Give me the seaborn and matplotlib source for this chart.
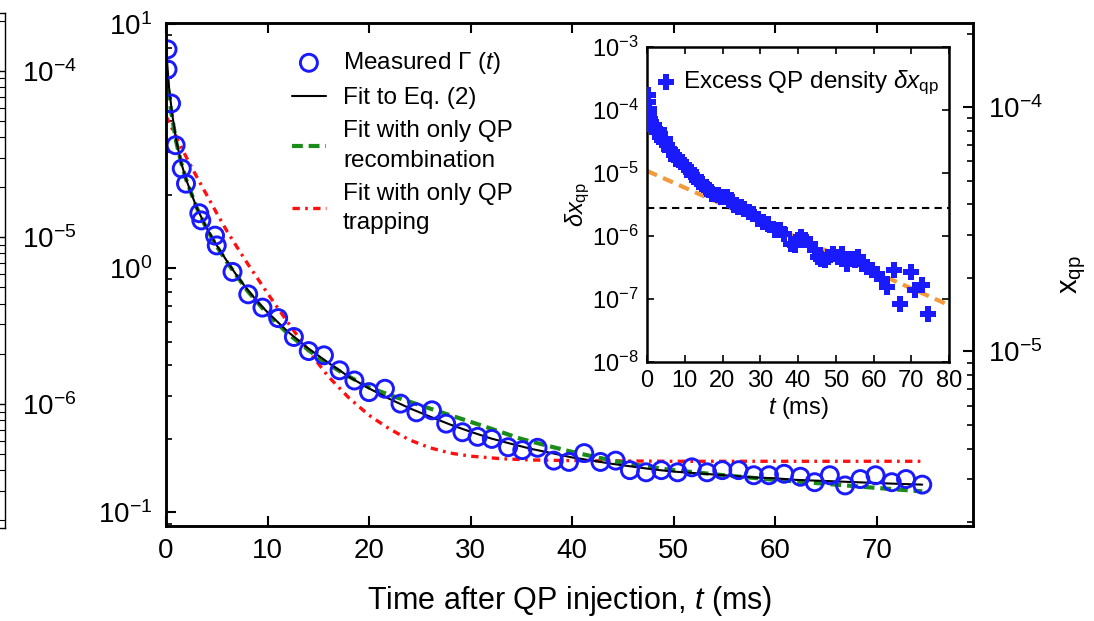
import numpy as np
import pandas as pd
import matplotlib
matplotlib.use("Agg")
import matplotlib.pyplot as plt
import seaborn as sns
from matplotlib.ticker import LogLocator, NullFormatter, FixedLocator

# ---------------- data ----------------
# measured decay rate Gamma(t)
meas_t = [0.15, 0.15, 0.5, 0.95, 1.55, 1.97, 3.28, 3.48, 4.83, 5.0, 6.55, 8.1, 9.5, 11.05,
          12.6, 14.06, 15.56, 17.1, 18.56, 20.0, 21.57, 23.1, 24.67, 26.2, 27.6, 29.2, 30.7,
          32.1, 33.7, 35.1, 36.6, 38.2, 39.7, 41.2, 42.8, 44.3, 45.7, 47.3, 48.8, 50.4, 51.8,
          53.3, 54.8, 56.4, 57.9, 59.4, 60.9, 62.5, 63.9, 65.4, 66.9, 68.4, 69.9, 71.5, 72.9, 74.5]
meas_gamma = [7.88, 6.52, 4.73, 3.19, 2.56, 2.22, 1.68, 1.57, 1.36, 1.24, 0.966, 0.782, 0.69,
              0.625, 0.523, 0.458, 0.44, 0.382, 0.347, 0.311, 0.321, 0.279, 0.257, 0.262, 0.231,
              0.213, 0.204, 0.2, 0.185, 0.18, 0.184, 0.163, 0.161, 0.175, 0.161, 0.163, 0.149,
              0.146, 0.149, 0.146, 0.153, 0.146, 0.149, 0.149, 0.142, 0.142, 0.144, 0.14, 0.133,
              0.142, 0.129, 0.137, 0.142, 0.133, 0.137, 0.13]

# fit to Eq. (2)
fit_t = [0, 0.3, 0.6, 1, 1.5, 2, 3, 4, 5, 6, 7, 8, 9, 10, 12, 14, 16, 18, 20, 22, 24, 26, 28,
         30, 32, 34, 36, 38, 40, 42, 44, 46, 48, 50, 52, 54, 56, 58, 60, 62, 64, 66, 68, 70, 72, 74.5]
fit_gamma = [8.0, 5.5, 4.3, 3.35, 2.7, 2.3, 1.78, 1.46, 1.24, 1.07, 0.93, 0.82, 0.73, 0.66, 0.55,
             0.47, 0.41, 0.36, 0.322, 0.292, 0.267, 0.247, 0.229, 0.214, 0.201, 0.191, 0.182,
             0.175, 0.168, 0.163, 0.158, 0.154, 0.15, 0.147, 0.145, 0.143, 0.141, 0.139, 0.138,
             0.136, 0.135, 0.134, 0.133, 0.132, 0.131, 0.13]

# fit with only QP recombination
rec_t = [0, 0.5, 1, 1.5, 2, 3, 4, 5, 6, 8, 10, 12, 15, 17.5, 20, 22.5, 25, 27.5, 30, 32.5, 35,
         37.5, 40, 42.5, 45, 47.5, 50, 55, 60, 65, 70, 74.5]
rec_gamma = [6.3, 4.4, 3.3, 2.7, 2.3, 1.78, 1.45, 1.23, 1.06, 0.81, 0.65, 0.54, 0.43, 0.37,
             0.325, 0.298, 0.275, 0.254, 0.235, 0.217, 0.2, 0.188, 0.177, 0.168, 0.16, 0.154,
             0.149, 0.142, 0.136, 0.131, 0.126, 0.122]

# fit with only QP trapping
trap_t = [0, 1, 2, 3, 4, 5, 6, 7, 8, 10, 12, 14, 16, 18, 20, 22, 24, 26, 28, 30, 33, 36, 40, 50, 60, 74.5]
trap_gamma = [4.2, 3.45, 2.85, 2.38, 2.0, 1.68, 1.42, 1.22, 1.05, 0.79, 0.6, 0.46, 0.36, 0.295,
              0.25, 0.22, 0.198, 0.184, 0.175, 0.17, 0.166, 0.164, 0.163, 0.162, 0.162, 0.162]

# inset: excess QP density
ex_t = [0.18, 0.27, 0.44, 0.62, 0.89, 1.16, 1.42, 1.78, 2.22, 2.67, 3.1, 3.56, 4.0, 4.44, 4.9,
        5.33, 5.78, 6.22, 7.1, 7.56, 8.0, 8.9, 9.8, 10.2, 11.1, 12.0, 12.9, 13.8, 14.7, 15.6,
        16.4, 17.3, 18.7, 19.6, 21.3, 22.2, 23.1, 24.0, 24.9, 25.8, 27.1, 28.0, 29.3, 30.7,
        32.0, 33.8, 35.1, 36.4, 38.2, 39.1, 40.0, 40.9, 41.8, 43.1, 44.4, 45.3, 46.2, 47.1,
        48.0, 49.3, 50.7, 51.6, 52.9, 54.2, 55.1, 56.0, 56.9, 58.2, 59.6, 60.9, 62.2, 63.6,
        65.3, 67.1, 70.0, 71.1, 72.9, 74.5]
ex_dx = [1.71e-4, 1.34e-4, 1.05e-4, 8.2e-5, 7.3e-5, 6.45e-5, 5.7e-5, 5.4e-5, 5.06e-5, 4.48e-5,
         4.8e-5, 3.7e-5, 3.3e-5, 3.1e-5, 3.5e-5, 2.75e-5, 2.43e-5, 2.29e-5, 1.9e-5, 1.69e-5,
         1.8e-5, 1.5e-5, 1.32e-5, 1.25e-5, 1.1e-5, 9.2e-6, 8.6e-6, 7.2e-6, 6.8e-6, 6.0e-6,
         5.3e-6, 4.7e-6, 4.4e-6, 4.16e-6, 4.16e-6, 3.7e-6, 3.07e-6, 2.88e-6, 2.88e-6, 2.7e-6,
         2.4e-6, 2.26e-6, 1.88e-6, 1.67e-6, 1.57e-6, 1.23e-6, 1.23e-6, 1.09e-6, 7.55e-7, 7.1e-7,
         8.5e-7, 9.6e-7, 8.5e-7, 7.55e-7, 5.9e-7, 4.64e-7, 4.37e-7, 4.1e-7, 4.64e-7, 5.25e-7,
         4.64e-7, 5.25e-7, 3.64e-7, 4.37e-7, 4.1e-7, 4.64e-7, 3.64e-7, 3.22e-7, 2.85e-7,
         2.52e-7, 2.1e-7, 1.55e-7, 2.85e-7, 8.4e-8, 2.68e-7, 1.37e-7, 1.65e-7, 5.85e-8]
exp_fit_t = [0, 80]
exp_fit_dx = [1.08e-5, 8.0e-8]
background_dx = 2.8e-6

XQP_PER_GAMMA = 2.19e-5   # conversion of right axis

main_xticks = [0, 10, 20, 30, 40, 50, 60, 70]
inset_xticks = [0, 10, 20, 30, 40, 50, 60, 70, 80]

# ---------------- style ----------------
sns.set_theme(style="ticks")
plt.rcParams['font.family'] = ['Liberation Sans', 'DejaVu Sans']
plt.rcParams['mathtext.fontset'] = 'custom'
plt.rcParams['mathtext.rm'] = 'Liberation Sans'
plt.rcParams['mathtext.it'] = 'Liberation Sans:italic'
plt.rcParams['mathtext.sf'] = 'Liberation Sans'
plt.rcParams['axes.unicode_minus'] = True
for key in ['text.color', 'axes.labelcolor', 'xtick.color', 'ytick.color', 'axes.edgecolor']:
    plt.rcParams[key] = 'black'

BLUE = "#1a1aff"
GREEN = "#1a8c1a"
RED = "#ff1010"
ORANGE = "#f39a3c"

fig = plt.figure(figsize=(10.94, 6.21), dpi=100)
W, H = 1094.0, 621.0

def frac(x0, y0, x1, y1):
    return [x0 / W, 1 - y1 / H, (x1 - x0) / W, (y1 - y0) / H]

# ---------- partial neighbouring panel at the left edge ----------
axL = fig.add_axes([-0.3, 1 - 528 / H, 0.3 + 5 / W, (528 - 13) / H])
axL.set_yscale('log')
axL.set_ylim(1.8e-7, 2.22e-4)
axL.set_xlim(0, 1)
axL.set_xticks([])
axL.yaxis.tick_right()
axL.tick_params(axis='y', which='both', direction='in', right=True, left=False,
                labelright=True, labelsize=20, pad=12)
axL.tick_params(axis='y', which='major', length=7, width=1.0)
axL.tick_params(axis='y', which='minor', length=4, width=0.8)
axL.yaxis.set_major_locator(LogLocator(base=10, numticks=10))
axL.yaxis.set_minor_locator(LogLocator(base=10, subs=np.arange(2, 10), numticks=20))
axL.yaxis.set_minor_formatter(NullFormatter())
for s in axL.spines.values():
    s.set_linewidth(1.0)
    s.set_color('black')

# ---------- main axes ----------
ax = fig.add_axes(frac(166, 23, 973, 526))
ax.set_yscale('log')
ax.set_xlim(0, 79.5)
ax.set_ylim(0.088, 10.1)

sns.lineplot(x=trap_t, y=trap_gamma, ax=ax, color=RED, lw=2.4,
             linestyle=(0, (2.2, 1.6, 0.8, 1.6)), sort=False, estimator=None,
             label="Fit with only QP\ntrapping", zorder=2)
sns.lineplot(x=rec_t, y=rec_gamma, ax=ax, color=GREEN, lw=3.0,
             linestyle=(0, (2.6, 1.4)), sort=False, estimator=None,
             label="Fit with only QP\nrecombination", zorder=3)
sns.lineplot(x=fit_t, y=fit_gamma, ax=ax, color='black', lw=1.5, sort=False,
             estimator=None, label="Fit to Eq. (2)", zorder=4)
sns.scatterplot(x=meas_t, y=meas_gamma, ax=ax, marker='o', s=150, facecolor='none',
                edgecolor=BLUE, linewidth=2.1, label=r"Measured $\Gamma\,\,(t)$", zorder=5)

ax.set_xticks(main_xticks)
ax.tick_params(axis='both', which='both', direction='in', labelsize=20)
ax.tick_params(axis='x', top=True, bottom=True, length=7, width=1.5, pad=9)
ax.tick_params(axis='y', which='major', left=True, right=False, length=7, width=1.5, pad=10)
ax.tick_params(axis='y', which='minor', left=True, right=False, length=4, width=1.2)
ax.yaxis.set_minor_formatter(NullFormatter())
ax.set_xlabel("Time after QP injection, $t$ (ms)", fontsize=22, labelpad=14)
ax.set_ylabel("")
for s in ax.spines.values():
    s.set_linewidth(1.8)
    s.set_color('black')

h, l = ax.get_legend_handles_labels()
order = [3, 2, 1, 0]
leg = ax.legend([h[i] for i in order], [l[i] for i in order], loc='upper left',
                bbox_to_anchor=(0.156, 0.946), frameon=False, fontsize=17.5,
                handlelength=1.4, handletextpad=0.7, labelspacing=0.45,
                borderaxespad=0, borderpad=0)
for txt in leg.get_texts():
    txt.set_linespacing(1.45)

# right axis: x_qp
ax2 = ax.twinx()
ax2.set_yscale('log')
ylo, yhi = ax.get_ylim()
ax2.set_ylim(ylo * XQP_PER_GAMMA, yhi * XQP_PER_GAMMA)
ax2.tick_params(axis='y', which='both', direction='in', labelsize=20, pad=11)
ax2.tick_params(axis='y', which='major', length=7, width=1.5)
ax2.tick_params(axis='y', which='minor', length=4, width=1.2)
ax2.yaxis.set_minor_formatter(NullFormatter())
ax2.set_ylabel(r"x$_{\rm qp}$", fontsize=21, labelpad=12)
ax2.grid(False)
for s in ax2.spines.values():
    s.set_linewidth(1.8)
    s.set_color('black')

# ---------- inset ----------
axi = fig.add_axes(frac(647, 47, 949, 362))
axi.set_facecolor('white')
axi.set_yscale('log')
axi.set_xlim(0, 80)
axi.set_ylim(1e-8, 1e-3)
sns.lineplot(x=exp_fit_t, y=exp_fit_dx, ax=axi, color=ORANGE, lw=3.0,
             linestyle=(0, (2.6, 1.6)), sort=False, estimator=None, zorder=2)
axi.axhline(background_dx, color='black', lw=1.5, linestyle=(0, (3.5, 2.5)), zorder=2)
sns.scatterplot(x=ex_t, y=ex_dx, ax=axi, marker='P', s=135, color=BLUE, linewidth=0,
                label=r"Excess QP density $\delta x_{\rm qp}$", zorder=4)
axi.set_xticks(inset_xticks)
axi.yaxis.set_major_locator(LogLocator(base=10, numticks=10))
axi.yaxis.set_minor_locator(FixedLocator([]))
axi.tick_params(axis='both', which='both', direction='in', labelsize=17,
                top=True, right=True, length=5, width=1.2)
axi.tick_params(axis='y', pad=6)
axi.tick_params(axis='x', pad=6)
axi.set_xlabel("$t$ (ms)", fontsize=17, labelpad=2)
axi.set_ylabel(r"$\delta x_{\rm qp}$", fontsize=17, labelpad=0)
for s in axi.spines.values():
    s.set_linewidth(1.8)
    s.set_color('black')
axi.legend(loc='upper left', bbox_to_anchor=(0.04, 0.93), frameon=False, fontsize=17.5,
           handlelength=0.6, handletextpad=0.4, borderaxespad=0, borderpad=0)

fig.savefig("out.png", dpi=100)
